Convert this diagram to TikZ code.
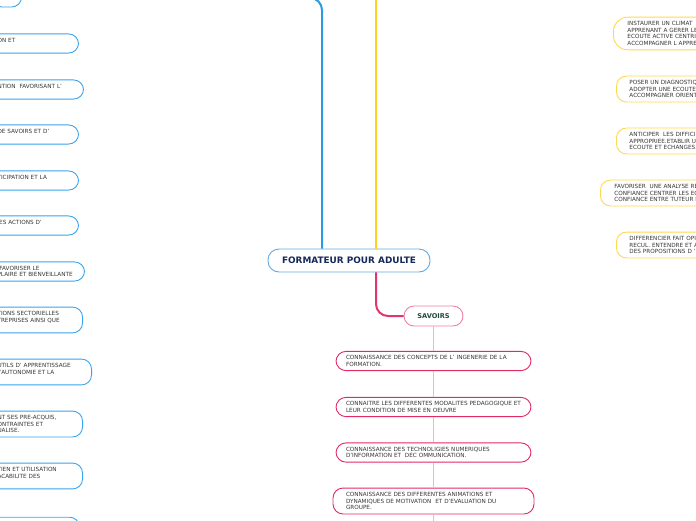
\documentclass[tikz,border=0pt]{standalone}
\usepackage{fontspec}
\setmainfont{DejaVu Sans}
\usepackage{tikz}
\usetikzlibrary{calc}

\definecolor{lineblue}{HTML}{2B9AE2}
\definecolor{boxblue}{HTML}{3AA4EC}
\definecolor{rootblue}{HTML}{63A9E4}
\definecolor{lineyellow}{HTML}{FFD21F}
\definecolor{boxyellow}{HTML}{FFD94D}
\definecolor{linecrimson}{HTML}{E0266A}
\definecolor{boxcrimson}{HTML}{E22A63}
\definecolor{savpink}{HTML}{EE7FA3}
\definecolor{linepink}{HTML}{F5B3CA}
\definecolor{textgrey}{HTML}{363636}
\definecolor{headgreen}{HTML}{1D4D3A}
\definecolor{rootnavy}{HTML}{17295A}

\begin{document}
\begin{tikzpicture}[x=1pt, y=-1pt,
  txt/.style={font=\fontsize{5.7}{6.7}\selectfont, text=textgrey, align=left},
  pill/.style={draw, fill=white, line width=0.9pt, rounded corners=10pt, inner ysep=4.1pt},
  leftbox/.style={pill, txt, draw=boxblue, anchor=east, inner xsep=9pt},
  rightbox/.style={pill, txt, draw=boxyellow, anchor=west, inner xsep=14pt, text width=150pt},
  savbox/.style={pill, txt, draw=boxcrimson, inner xsep=10pt, text width=175pt},
  headbox/.style={draw, fill=white, line width=0.9pt, rounded corners=10pt, minimum height=20pt,
    inner xsep=10pt, font=\fontsize{6.6}{7}\selectfont\bfseries, text=headgreen},
  branch/.style={line width=2pt, rounded corners=12pt}
]
\useasboundingbox (0,0) rectangle (696,520);
\clip (0,0) rectangle (696,520);

% Central topic
\node[draw=rootblue, fill=white, line width=0.9pt, rounded corners=11pt, minimum width=162pt,
  minimum height=23pt, font=\fontsize{8.9}{9}\selectfont\bfseries, text=rootnavy] (root) at (349,260.5) {FORMATEUR POUR ADULTE};

% Free ends of the main branches (outside the frame)
\coordinate (bluecorner) at (322,-2);
\coordinate (bluefree) at (200,-2);
\coordinate (yellowfree) at (376,-2);
\coordinate (savbend) at (376,316);
\coordinate (pinkfree) at (433.5,530);

% Blue branch (left)
\draw[branch, lineblue] (root.north -| bluecorner) -- (bluecorner) -- (bluefree);
\node[headbox, draw=boxblue, anchor=east] (l1) at (22,-3) {RE};
\node[leftbox, text width=72pt] (l2) at (79,43.5) {ON ET\\~};
\node[leftbox, text width=77pt] (l3) at (84,89.5) {NTION~ FAVORISANT L'\\.};
\node[leftbox, text width=72pt] (l4) at (79,134.5) {DE SAVOIRS ET D'\\~};
\node[leftbox, text width=72pt] (l5) at (79,180.5) {TICIPATION ET LA\\~};
\node[leftbox, text width=72pt] (l6) at (79,225.5) {IES ACTIONS D'\\~};
\node[leftbox, text width=78pt] (l7) at (85,271.5) {~FAVORISER LE\\PLAIRE ET BIENVEILLANTE};
\node[leftbox, text width=76pt] (l8) at (83,320) {TIONS SECTORIELLES\\TREPRISES AINSI QUE\\~};
\node[leftbox, text width=85pt] (l9) at (92,372) {UTILS D' APPRENTISSAGE\\~'AUTONOMIE ET LA\\~};
\node[leftbox, text width=76pt] (l10) at (83,424) {NT SES PRE-ACQUIS,\\ONTRAINTES ET\\UALISE.};
\node[leftbox, text width=76pt] (l11) at (83,476) {TIEN ET UTILISATION\\ACABILITE DES\\~};
\node[leftbox, text width=73pt] (l12) at (80,528) {~\\~\\~};

% Yellow branch (right)
\draw[branch, lineyellow] (root.north -| yellowfree) -- (yellowfree);
\node[rightbox, rounded corners=14pt] (r1) at (613,33.5) {INSTAURER UN CLIMAT\\APPRENANT A GERER LE\\ECOUTE ACTIVE CENTRI\\ACCOMPAGNER L APPRE};
\node[rightbox, inner xsep=13pt] (r2) at (616,89) {POSER UN DIAGNOSTIQ\\ADOPTER UNE ECOUTE .\\ACCOMPAGNER ORIENT};
\node[rightbox, inner xsep=13pt] (r3) at (616,141) {ANTICIPER~ LES DIFFICI\\APPROPRIEE.ETABLIR U\\ECOUTE ET ECHANGES.};
\node[rightbox] (r4) at (600,193) {FAVORISER~ UNE ANALYSE RE\\CONFIANCE CENTRER LES EC\\CONFIANCE ENTRE TUTEUR E};
\node[rightbox, inner xsep=13pt] (r5) at (616,245) {DIFFERENCIER FAIT OPI\\RECUL. ENTENDRE ET A\\DES PROPOSITIONS D '};

% Crimson branch (savoirs)
\node[headbox, draw=savpink, minimum width=59pt] (sav) at (433.5,316) {SAVOIRS};
\draw[branch, linecrimson!85!savpink] (root.south -| savbend) -- (savbend) -- (sav.west);
\node[savbox] (s1) at (433.5,361) {CONNAISSANCE DES CONCEPTS DE L' INGENERIE DE LA\\FORMATION.};
\node[savbox] (s2) at (433.5,407) {CONNAITRE LES DIFFERENTES MODALITES PEDAGOGIQUE ET\\LEUR CONDITION DE MISE EN OEUVRE};
\node[savbox] (s3) at (433.5,452.5) {CONNAISSANCE DES TECHNOLIGIES NUMERIQUES\\D'INFORMATION ET~ DEC OMMUNICATION.};
\node[savbox, inner xsep=13pt] (s4) at (433.5,501) {CONNAISSANCE DES DIFFERENTES ANIMATIONS ET\\DYNAMIQUES DE MOTIVATION~ ET D'EVALUATION DU\\GROUPE.};
\draw[linepink, line width=1.3pt] (sav) -- (s1) -- (s2) -- (s3) -- (s4) -- (pinkfree);
\end{tikzpicture}
\end{document}
